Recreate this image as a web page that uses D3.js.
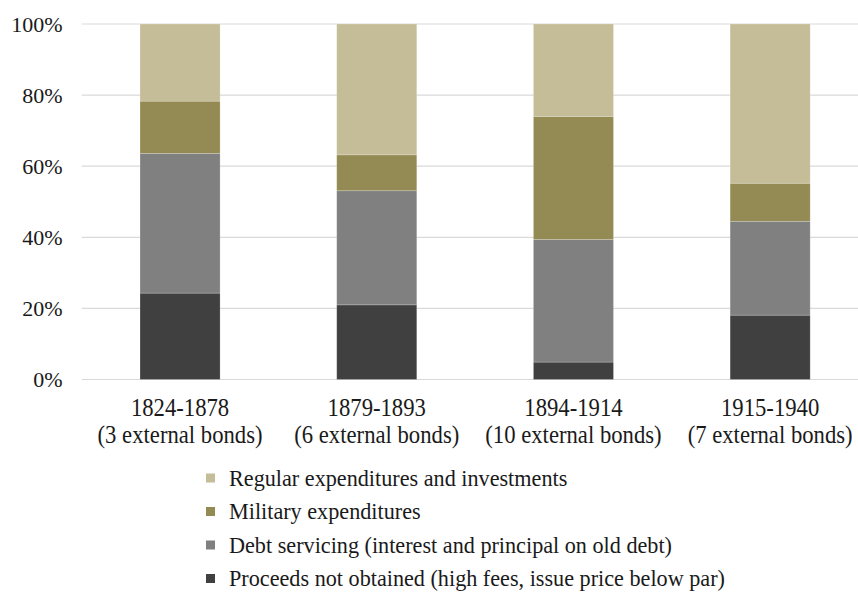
<!DOCTYPE html>
<html><head><meta charset="utf-8">
<script src="https://cdn.jsdelivr.net/npm/d3@7"></script>
<style>body{margin:0;background:#fff}svg{display:block}</style>
</head><body>
<svg id="c" width="858" height="595"></svg>
<script>
const categories = ["1824-1878", "1879-1893", "1894-1914", "1915-1940"];
const subLabels = ["(3 external bonds)", "(6 external bonds)", "(10 external bonds)", "(7 external bonds)"];
const seriesNames = ["Proceeds not obtained (high fees, issue price below par)", "Debt servicing (interest and principal on old debt)", "Military expenditures", "Regular expenditures and investments"];
const proceeds = [24.3, 21.0, 4.9, 18.1];
const debt = [39.3, 32.1, 34.5, 26.4];
const military = [14.7, 10.1, 34.6, 10.7];
const regular = [21.7, 36.8, 26.0, 44.8];
const yTicks = [0, 20, 40, 60, 80, 100];
const colors = ["#404040", "#808080", "#948a54", "#c4bd97"];

(function () {
const FONT = '"Liberation Serif"';
const TXT = "#1a1a1a";
const seriesVals = [proceeds, debt, military, regular];
const data = categories.map((c, i) => {
  const o = {cat: c};
  seriesNames.forEach((s, j) => o[s] = seriesVals[j][i]);
  return o;
});
const stack = d3.stack().keys(seriesNames)(data);

const svg = d3.select("#c");
const mLeft = 81.7, mTop = 24, mBottom = 379.5;
const x = d3.scaleBand().domain(categories).range([mLeft, mLeft + 4 * 196.7]).paddingInner(0.593).paddingOuter(0.2965);
const y = d3.scaleLinear().domain([0, 100]).range([mBottom, mTop]);

svg.append("g").selectAll("line").data(yTicks).join("line")
  .attr("x1", mLeft).attr("x2", 858)
  .attr("y1", d => y(d)).attr("y2", d => y(d))
  .attr("stroke", "#d9d9d9").attr("stroke-width", 1.2);

const yAxis = svg.append("g").attr("transform", `translate(${mLeft},0)`)
  .call(d3.axisLeft(y).tickValues(yTicks).tickFormat(d => d + "%").tickSize(0).tickPadding(19));
yAxis.select(".domain").remove();
yAxis.attr("font-family", null).attr("font-size", null);
yAxis.selectAll("text").style("font-size", "22px").style("font-family", FONT).attr("fill", TXT);

svg.append("g").selectAll("g").data(stack).join("g")
  .attr("fill", (d, i) => colors[i])
  .selectAll("rect").data(d => d).join("rect")
  .attr("x", d => x(d.data.cat)).attr("width", x.bandwidth())
  .attr("y", d => y(d[1])).attr("height", d => y(d[0]) - y(d[1]))
  .attr("stroke", "rgba(255,255,255,0.25)").attr("stroke-width", 0.8);

const xl = svg.append("g");
categories.forEach((c, i) => {
  const cx = x(c) + x.bandwidth() / 2;
  [[c, 416], [subLabels[i], 443]].forEach(([t, yy]) => {
    xl.append("g").attr("transform", `translate(${cx},${yy}) scale(0.89,1)`)
      .append("text").attr("text-anchor", "middle")
      .style("font-family", FONT).style("font-size", "25.5px").attr("fill", TXT).text(t);
  });
});

const legendOrder = [3, 2, 1, 0];
const lg = svg.append("g");
legendOrder.forEach((si, k) => {
  const cy = 478 + k * 33.5;
  lg.append("rect").attr("x", 206).attr("y", cy - 4.5).attr("width", 9).attr("height", 9).attr("fill", colors[si]);
  lg.append("text").attr("x", 229).attr("y", cy).attr("dy", "0.35em")
    .style("font-family", FONT).style("font-size", "22.2px").attr("fill", TXT).text(seriesNames[si]);
});
})();
</script>
</body></html>
